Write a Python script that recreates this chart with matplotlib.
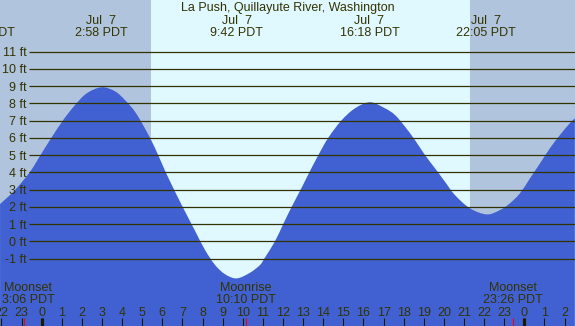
import matplotlib
matplotlib.use('Agg')
import matplotlib.pyplot as plt
from matplotlib.path import Path
from matplotlib.patches import PathPatch
from matplotlib.transforms import blended_transform_factory

TITLE = "La Push, Quillayute River, Washington"

# tide height (ft), hours since midnight Jul 7
tide_hours = [-2.07, -1.33, -0.58, -0.09, 0.41, 1.07, 1.66, 2.24, 2.98, 3.64,
              4.14, 4.64, 5.14, 5.63, 6.13, 6.63, 7.13, 7.62, 8.12, 8.62,
              9.12, 9.70, 10.36, 10.86, 11.07, 11.60, 12.01, 12.43, 12.88, 13.31,
              13.76, 14.25, 14.90, 15.58, 16.33, 17.07, 17.57, 18.07, 18.56, 19.06,
              19.56, 20.05, 20.55, 21.30, 22.13, 22.79, 23.28, 23.78, 24.28, 24.78,
              25.27, 25.77, 26.26, 26.51]
tide_feet = [2.16, 2.97, 4.03, 4.94, 5.87, 7.03, 7.90, 8.58, 8.93, 8.70,
             8.19, 7.51, 6.53, 5.42, 4.10, 2.88, 1.72, 0.62, -0.50, -1.37,
             -1.91, -2.15, -1.82, -1.37, -1.00, 0.00, 1.00, 2.00, 3.00, 4.00,
             5.00, 6.00, 7.00, 7.71, 8.06, 7.71, 7.32, 6.64, 5.87, 5.00,
             4.23, 3.46, 2.68, 1.91, 1.56, 1.81, 2.20, 2.78, 3.65, 4.52,
             5.39, 6.16, 6.84, 7.13]

extreme_hours = [-2.80, 2.967, 9.70, 16.30, 22.083]
extreme_dates = ["Jul  6", "Jul  7", "Jul  7", "Jul  7", "Jul  7"]
extreme_times = ["21:12 PDT", "2:58 PDT", "9:42 PDT", "16:18 PDT", "22:05 PDT"]

sunrise_hour = 5.43
sunset_hour = 21.30

moon_hours = [-0.88, 10.16, 23.45]
moon_events = ["Moonset", "Moonrise", "Moonset"]
moon_times = ["3:06 PDT", "10:10 PDT", "23:26 PDT"]

grid_feet = list(range(-1, 12))
tick_hours = list(range(-2, 27))
midnight_hours = [0, 24]

W, H = 575, 326
PX_PER_HOUR = 20.11
X0 = 41.7          # pixel of midnight
PX_PER_FT = 17.25
Y0 = 241.3         # pixel of 0 ft

NIGHT = '#b0c4de'
DAY = '#e0f8ff'
WATER = '#4161d3'
INK = '#333300'

plt.rc('font', family='Liberation Sans', size=9)


def hour_at(px):
    return (px - X0) / PX_PER_HOUR


def ft_at(py):
    return (Y0 - py) / PX_PER_FT


def frac_y(py):
    return 1 - py / H


def smooth_area(xs, ys, base):
    # closed path under the readings, drawn with catmull-rom style bezier segments
    pts = list(zip(xs, ys))
    verts = [(xs[0], base), pts[0]]
    codes = [Path.MOVETO, Path.LINETO]
    n = len(pts)
    for i in range(n - 1):
        p0 = pts[max(i - 1, 0)]
        p1 = pts[i]
        p2 = pts[i + 1]
        p3 = pts[min(i + 2, n - 1)]
        c1 = (p1[0] + (p2[0] - p0[0]) / 6, p1[1] + (p2[1] - p0[1]) / 6)
        c2 = (p2[0] - (p3[0] - p1[0]) / 6, p2[1] - (p3[1] - p1[1]) / 6)
        verts += [c1, c2, p2]
        codes += [Path.CURVE4] * 3
    verts += [(xs[-1], base), (xs[0], base)]
    codes += [Path.LINETO, Path.CLOSEPOLY]
    return Path(verts, codes)


def main():
    fig = plt.figure(figsize=(W / 100, H / 100), dpi=100)
    ax = fig.add_axes([0, 0, 1, 1])
    ax.axis('off')
    x_lo, x_hi = hour_at(0), hour_at(W)
    y_lo, y_hi = ft_at(H), ft_at(0)
    ax.set_xlim(x_lo, x_hi)
    ax.set_ylim(y_lo, y_hi)

    ax.axvspan(x_lo, sunrise_hour, color=NIGHT, lw=0, zorder=0)
    ax.axvspan(sunrise_hour, sunset_hour, color=DAY, lw=0, zorder=0)
    ax.axvspan(sunset_hour, x_hi, color=NIGHT, lw=0, zorder=0)

    water = smooth_area(tide_hours, tide_feet, y_lo - 1)
    ax.add_patch(PathPatch(water, facecolor=WATER, lw=0, zorder=1))

    ax.hlines(grid_feet, hour_at(29.3), x_hi, color=INK, lw=0.9, zorder=2)
    for f in grid_feet:
        ax.text(hour_at(26.7), f - 4.6 / PX_PER_FT, f"{f} ft", ha='right',
                va='baseline', color=INK, zorder=3)

    bt = blended_transform_factory(ax.transData, ax.transAxes)

    ax.text(0.5, frac_y(11.5), TITLE, transform=ax.transAxes, ha='center',
            va='baseline', color=INK)
    for h, d, t in zip(extreme_hours, extreme_dates, extreme_times):
        ax.text(h, frac_y(24), d, transform=bt, ha='center', va='baseline', color=INK)
        ax.text(h, frac_y(36), t, transform=bt, ha='center', va='baseline', color=INK)

    # moon labels are kept inside the picture
    for h, e, t in zip(moon_hours, moon_events, moon_times):
        lx = max(h, hour_at(28.5))
        ax.text(lx, frac_y(290.7), e, transform=bt, ha='center', va='baseline', color=INK)
        ax.text(lx, frac_y(303.3), t, transform=bt, ha='center', va='baseline', color=INK)

    tick_top = ft_at(318)
    for h in tick_hours:
        ax.vlines(h, y_lo, tick_top, color='#1a1a00', lw=0.8, zorder=3)
        ax.text(h, frac_y(315.7), str(h % 24), transform=bt, ha='center',
                va='baseline', color=INK)
    ax.vlines(midnight_hours, y_lo, tick_top, color='#1a1a00', lw=2.3, zorder=3)
    ax.vlines(moon_hours, y_lo, tick_top, color='red', lw=0.8, zorder=4)

    fig.savefig('out.png', dpi=100)
    plt.close(fig)


if __name__ == '__main__':
    main()
